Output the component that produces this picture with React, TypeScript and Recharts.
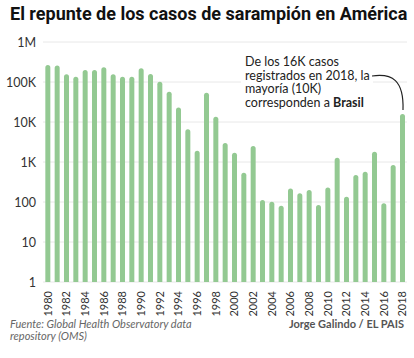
import React from "react";
import { BarChart, Bar, XAxis, YAxis, CartesianGrid } from "recharts";

const years: string[] = [
  "1980","1981","1982","1983","1984","1985","1986","1987","1988","1989",
  "1990","1991","1992","1993","1994","1995","1996","1997","1998","1999",
  "2000","2001","2002","2003","2004","2005","2006","2007","2008","2009",
  "2010","2011","2012","2013","2014","2015","2016","2017","2018",
];
const cases: number[] = [
  266000, 260000, 156000, 136000, 200000, 200000, 233000, 156000, 136000, 136000,
  220000, 158000, 102000, 57000, 23000, 6600, 1900, 54000, 13500, 3000,
  1700, 537, 2500, 112, 101, 81, 219, 166, 199, 84,
  232, 1280, 136, 470, 574, 1800, 93, 845, 15800,
];
const yTicks: number[] = [1, 10, 100, 1000, 10000, 100000, 1000000];
const yTickLabels: string[] = ["1", "10", "100", "1K", "10K", "100K", "1M"];
const xTickLabels: string[] = years.filter((_, i) => i % 2 === 0);

const data = years.map((y, i) => ({ year: y, cases: cases[i] }));

const FONT = "Lato, 'Noto Sans', sans-serif";

const XTick = (props: any) => {
  const { x, y, payload } = props;
  if (!xTickLabels.includes(payload.value)) return null;
  return (
    <g transform={`translate(${x},${y}) rotate(-90)`}>
      <text x={0} y={0} dy="0.36em" textAnchor="end" fill="#333" fontSize={11} fontFamily={FONT}>
        {payload.value}
      </text>
    </g>
  );
};

const YTick = (props: any) => {
  const { x, y, payload } = props;
  const idx = yTicks.indexOf(payload.value);
  return (
    <text x={x} y={y} dy="0.36em" textAnchor="end" fill="#333" fontSize={12.5} fontFamily={FONT}>
      {yTickLabels[idx]}
    </text>
  );
};

export default function App() {
  return (
    <div style={{ position: "absolute", left: 0, top: 0, width: 414, height: 358, background: "#fff", fontFamily: FONT }}>
      <div style={{ position: "absolute", left: 10, top: 3, fontSize: 18, fontWeight: 700, color: "#111", fontFamily: "Roboto, sans-serif", whiteSpace: "nowrap" }}>
        El repunte de los casos de sarampión en América
      </div>
      <div style={{ position: "absolute", left: 0, top: 0 }}>
        <BarChart width={414} height={330} data={data} margin={{ top: 42, right: 7, left: 0, bottom: 0 }} barCategoryGap="25%">
          <CartesianGrid vertical={false} stroke="#e8e8e8" />
          <XAxis dataKey="year" interval={0} height={48} tickLine={false} axisLine={false} tick={<XTick />} tickMargin={3} />
          <YAxis scale="log" domain={[1, 1000000]} ticks={yTicks} allowDataOverflow width={43} tickLine={false} axisLine={false} tickSize={0} tickMargin={7} tick={<YTick />} />
          <Bar dataKey="cases" fill="#93c992" radius={[3, 3, 0, 0]} isAnimationActive={false} />
        </BarChart>
      </div>
      <div style={{ position: "absolute", left: 241, top: 53, width: 132, height: 56, background: "#fff" }} />
      <div style={{ position: "absolute", left: 245, top: 55, fontSize: 12.5, lineHeight: "13.6px", color: "#222", fontFamily: FONT, whiteSpace: "nowrap" }}>
        De los 16K casos<br />registrados en 2018, la<br />mayoría (10K)<br />corresponden a <b>Brasil</b>
      </div>
      <svg style={{ position: "absolute", left: 0, top: 0 }} width={414} height={358}>
        <path d="M372,76 C392,73 404,80 403,110" fill="none" stroke="#222" strokeWidth={1.2} />
      </svg>
      <div style={{ position: "absolute", left: 10, top: 318, fontSize: 11, lineHeight: "12px", color: "#666", fontStyle: "italic", fontFamily: FONT }}>
        Fuente: Global Health Observatory data<br />repository (OMS)
      </div>
      <div style={{ position: "absolute", right: 10, top: 318, fontSize: 11, lineHeight: "12px", color: "#555", fontWeight: 700, fontFamily: FONT }}>
        Jorge Galindo / EL PAIS
      </div>
    </div>
  );
}
